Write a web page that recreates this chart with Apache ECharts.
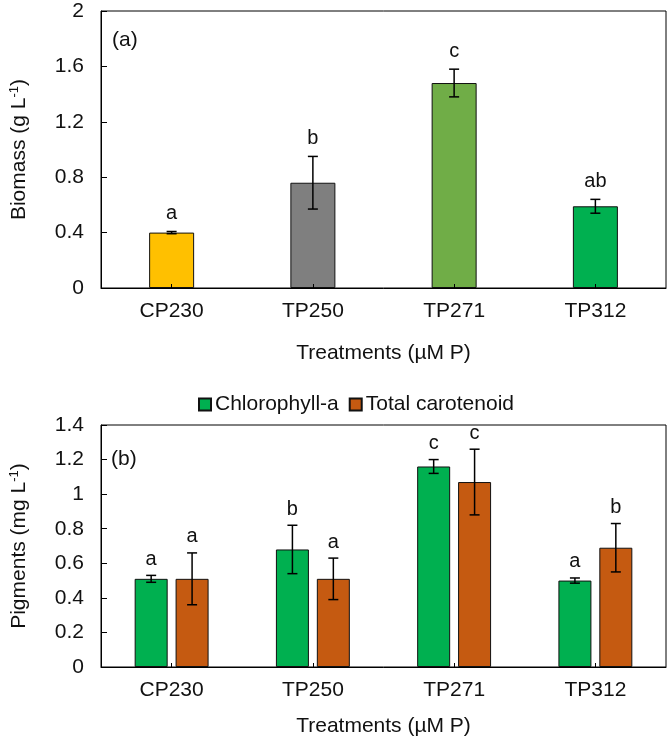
<!DOCTYPE html>
<html lang="en">
<head>
  <meta charset="UTF-8" />
  <title>Biomass and pigments by treatment</title>
  <script src="https://cdn.jsdelivr.net/npm/echarts@6/dist/echarts.min.js"></script>
  <style>
    html, body, #main {
      margin: 0; padding: 0; width: 100%; height: 100%;
      background: #ffffff;
    }
  </style>
</head>
<body>
  <div id="main"></div>
  <script>
    const categories = ['CP230', 'TP250', 'TP271', 'TP312'];

    // (a) biomass, g/L
    const biomass = [0.40, 0.76, 1.48, 0.59];
    const biomassErr = [0.008, 0.19, 0.10, 0.05];
    const biomassLetters = ['a', 'b', 'c', 'ab'];
    const biomassColors = ['#FFC000', '#7F7F7F', '#70AD47', '#00B050'];

    // (b) pigments, mg/L
    const chlA = [0.51, 0.68, 1.16, 0.50];
    const chlAErr = [0.02, 0.14, 0.04, 0.015];
    const chlALetters = ['a', 'b', 'c', 'a'];
    const carot = [0.51, 0.51, 1.07, 0.69];
    const carotErr = [0.15, 0.12, 0.19, 0.14];
    const carotLetters = ['a', 'a', 'c', 'b'];

    const yTicksA = { min: 0, max: 2, interval: 0.4 };
    const yTicksB = { min: 0, max: 1.4, interval: 0.2 };

    const FONT = '"Liberation Sans", Arial, sans-serif';
    const INK = '#111';
    const barW = 33, barGap = 0.24;
    const off = barW * (1 + barGap) / 2;

    const chart = echarts.init(document.getElementById('main'));

    // error bar + significance letter, drawn through the axis scale
    function errBars(letters, shift, lift) {
      return function (params, api) {
        const i = api.value(0);
        const v = api.value(1), e = api.value(2);
        const top = api.coord([i, v + e]);
        const bot = api.coord([i, v - e]);
        const x = top[0] + shift;
        const cap = 5;
        const ls = { stroke: '#000', lineWidth: 1.5 };
        return {
          type: 'group',
          children: [
            { type: 'line', shape: { x1: x, y1: top[1], x2: x, y2: bot[1] }, style: ls },
            { type: 'line', shape: { x1: x - cap, y1: top[1], x2: x + cap, y2: top[1] }, style: ls },
            { type: 'line', shape: { x1: x - cap, y1: bot[1], x2: x + cap, y2: bot[1] }, style: ls },
            {
              type: 'text',
              style: {
                x: x, y: top[1] - lift,
                text: letters[params.dataIndex],
                align: 'center', verticalAlign: 'bottom',
                font: '20px ' + FONT, fill: INK
              }
            }
          ]
        };
      };
    }

    function xAxisCfg(gridIndex, gap) {
      return {
        type: 'category',
        gridIndex: gridIndex,
        data: categories,
        name: 'Treatments (\u00b5M P)',
        nameLocation: 'middle',
        nameGap: gap,
        nameTextStyle: { fontFamily: FONT, fontSize: 21, color: INK },
        z: 5,
        axisLine: { lineStyle: { color: '#000', width: 1 } },
        axisTick: { show: true, inside: true, alignWithLabel: true, length: 4, lineStyle: { color: '#000' } },
        axisLabel: { fontFamily: FONT, fontSize: 21, color: INK, margin: 13 },
        splitLine: { show: false }
      };
    }

    function yAxisCfg(gridIndex, ticks, label) {
      return {
        type: 'value',
        gridIndex: gridIndex,
        min: ticks.min, max: ticks.max, interval: ticks.interval,
        name: label,
        nameLocation: 'middle',
        nameGap: 71,
        nameTextStyle: {
          fontFamily: FONT, fontSize: 21, color: INK,
          rich: { sup: { fontFamily: FONT, fontSize: 13, color: INK, verticalAlign: 'top', padding: [0, 0, 9, 0] } }
        },
        axisLine: { show: true, lineStyle: { color: '#000', width: 1 } },
        axisTick: { show: true, inside: true, length: 6, lineStyle: { color: '#000' } },
        axisLabel: { fontFamily: FONT, fontSize: 21, color: INK, margin: 17 },
        splitLine: { show: false }
      };
    }

    chart.setOption({
      animation: false,
      textStyle: { fontFamily: FONT },
      grid: [
        { left: 93, right: 3, top: 11, height: 277, show: true, borderColor: '#000', borderWidth: 1 },
        { left: 93, right: 3, top: 425, height: 242, show: true, borderColor: '#000', borderWidth: 1 }
      ],
      legend: {
        data: ['Chlorophyll-a', 'Total carotenoid'],
        left: 193, top: 389,
        icon: 'rect',
        itemWidth: 12, itemHeight: 12,
        itemGap: 10,
        textStyle: { fontFamily: FONT, fontSize: 21, color: INK, padding: [0, 0, 0, -1] }
      },
      xAxis: [xAxisCfg(0, 55), xAxisCfg(1, 49)],
      yAxis: [
        yAxisCfg(0, yTicksA, 'Biomass (g L{sup|-1})'),
        yAxisCfg(1, yTicksB, 'Pigments (mg L{sup|-1})')
      ],
      graphic: [
        { type: 'text', left: 112, top: 30, style: { text: '(a)', font: '21px ' + FONT, fill: INK } },
        { type: 'text', left: 111, top: 449, style: { text: '(b)', font: '21px ' + FONT, fill: INK } }
      ],
      series: [
        {
          name: 'Biomass',
          type: 'bar',
          xAxisIndex: 0, yAxisIndex: 0,
          barWidth: 45,
          itemStyle: { borderColor: '#111', borderWidth: 1 },
          data: biomass.map((v, i) => ({ value: v, itemStyle: { color: biomassColors[i] } }))
        },
        {
          type: 'custom',
          xAxisIndex: 0, yAxisIndex: 0,
          z: 10,
          renderItem: errBars(biomassLetters, 0, 8),
          data: biomass.map((v, i) => [i, v, biomassErr[i]])
        },
        {
          name: 'Chlorophyll-a',
          type: 'bar',
          xAxisIndex: 1, yAxisIndex: 1,
          barWidth: barW,
          barGap: (barGap * 100) + '%',
          itemStyle: { color: '#00B050', borderColor: '#111', borderWidth: 1 },
          data: chlA
        },
        {
          name: 'Total carotenoid',
          type: 'bar',
          xAxisIndex: 1, yAxisIndex: 1,
          barWidth: barW,
          barGap: (barGap * 100) + '%',
          itemStyle: { color: '#C55A11', borderColor: '#111', borderWidth: 1 },
          data: carot
        },
        {
          type: 'custom',
          xAxisIndex: 1, yAxisIndex: 1,
          z: 10,
          renderItem: errBars(chlALetters, -off, 6),
          data: chlA.map((v, i) => [i, v, chlAErr[i]])
        },
        {
          type: 'custom',
          xAxisIndex: 1, yAxisIndex: 1,
          z: 10,
          renderItem: errBars(carotLetters, off, 6),
          data: carot.map((v, i) => [i, v, carotErr[i]])
        }
      ]
    });
  </script>
</body>
</html>
